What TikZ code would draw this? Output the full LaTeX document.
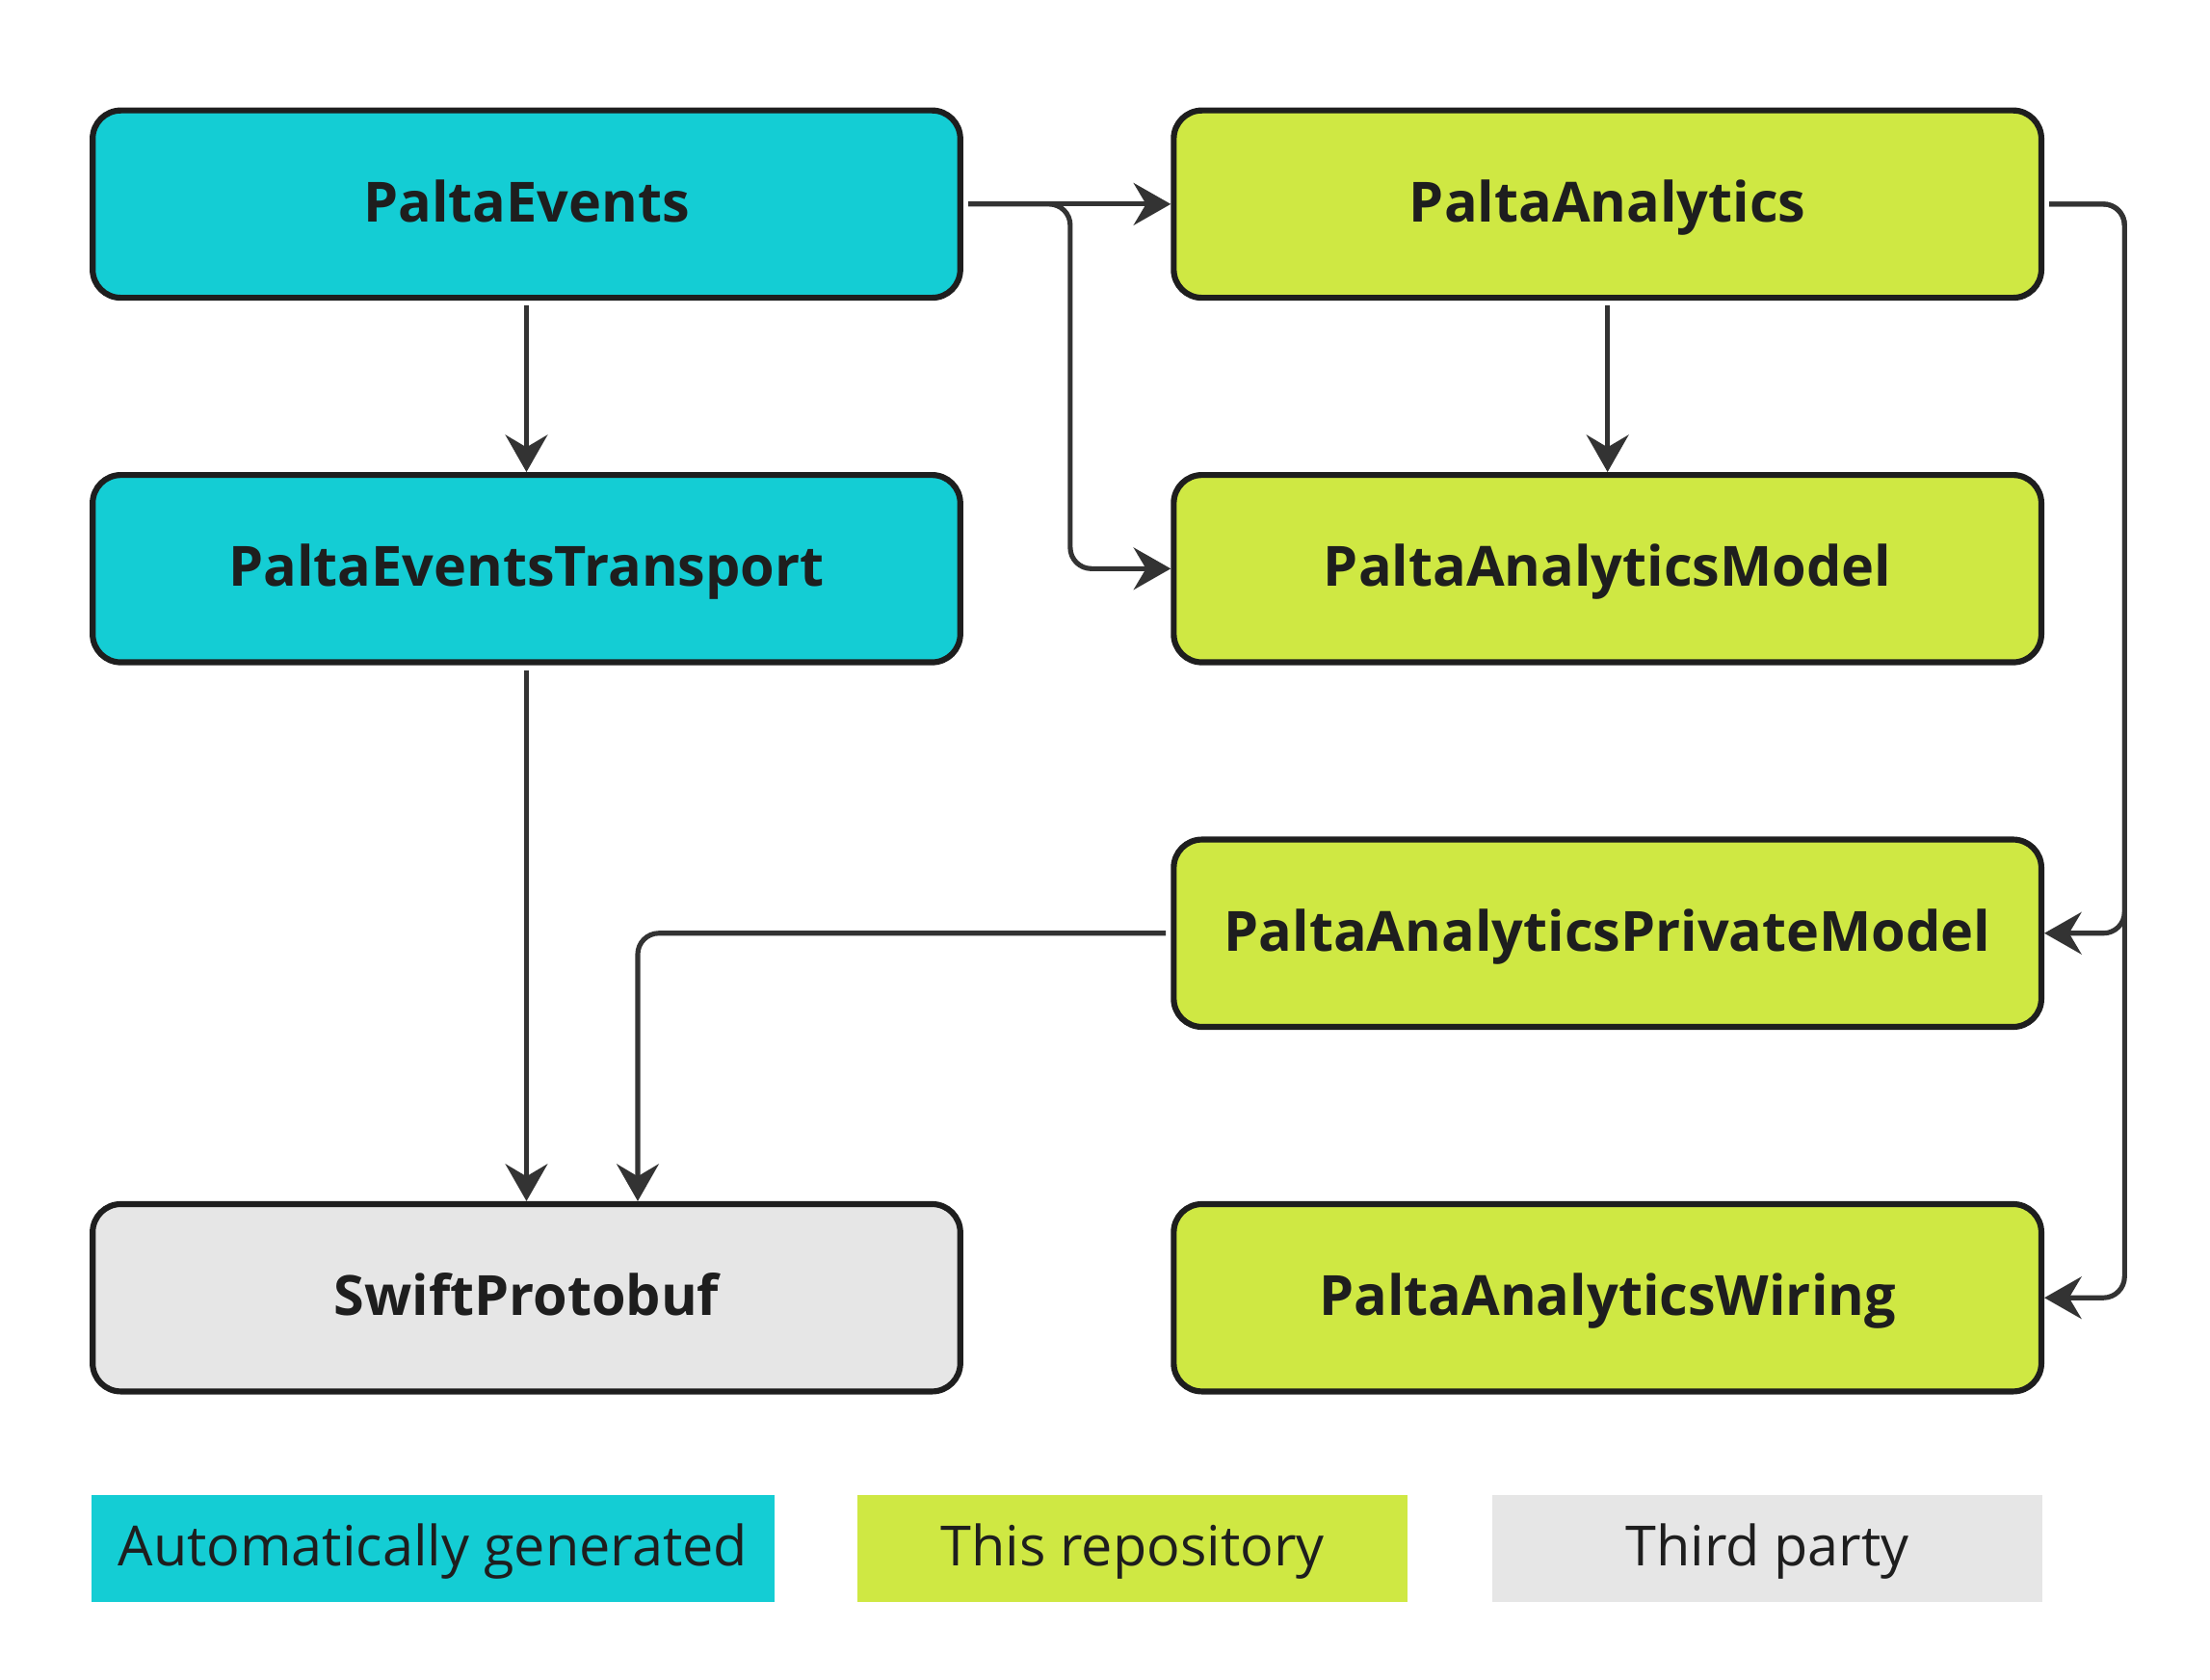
\documentclass[tikz,border=0pt]{standalone}
\usepackage{fontspec}
\setmainfont{Open Sans}
\usetikzlibrary{arrows.meta,positioning,calc}
\definecolor{gencyan}{HTML}{14CDD4}
\definecolor{repolime}{HTML}{CFE843}
\definecolor{thirdgray}{HTML}{E6E6E6}
\definecolor{wire}{HTML}{333333}
\definecolor{ink}{HTML}{1E1E1E}
\tikzset{
	module/.style={draw=ink, line width=1.2pt, rounded corners=2mm, minimum width=6.16cm, minimum height=1.33cm, text=ink, text height=0.71em, text depth=0em, font=\fontsize{11.2}{14}\selectfont\bfseries},
	gen/.style={module, fill=gencyan},
	repo/.style={module, fill=repolime},
	third/.style={module, fill=thirdgray},
	keybox/.style={minimum height=0.76cm, text=ink, text height=0.71em, text depth=0em, font=\fontsize{11.2}{14}\selectfont},
	dep/.style={draw=wire, line width=1pt, rounded corners=1.5mm, shorten <=1pt, -{Stealth[length=7.5pt,width=8.5pt,inset=2.5pt]}},
}
\begin{document}
\begin{tikzpicture}[x=0.01cm,y=-0.01cm]
	\useasboundingbox (0,0) rectangle (1570,1193);
	\node[gen] (PE) at (374,145){PaltaEvents};
	\node[gen] (PET) at (374,404){PaltaEventsTransport};
	\node[third] (SP) at (374,922){SwiftProtobuf};
	\node[repo] (PA) at (1142,145){PaltaAnalytics};
	\node[repo] (PAM) at (1142,404){PaltaAnalyticsModel};
	\node[repo] (PAPM) at (1142,663){PaltaAnalyticsPrivateModel};
	\node[repo] (PAW) at (1142,922){PaltaAnalyticsWiring};
	\node[keybox, fill=gencyan, minimum width=4.85cm] (K1) at (307.5,1100){Automatically generated};
	\node[keybox, fill=repolime, minimum width=3.91cm] (K2) at (804.5,1100){This repository};
	\node[keybox, fill=thirdgray, minimum width=3.91cm] (K3) at (1255.5,1100){Third party};
	\draw[dep] (PE) -- (PA);
	\draw[dep] (PE.east) -- ++(76,0)coordinate (b1) |- (PAM.west);
	\draw[dep] (PE) -- (PET);
	\draw[dep] (PA) -- (PAM);
	\draw[dep] (PA.east) -- ++(57,0)coordinate (b2) |- (PAPM.east);
	\draw[dep] (PA.east) -- (b2) |- (PAW.east);
	\draw[dep] (PET) -- (SP);
	\draw[dep] (PAPM.west) -| ([xshift=0.79cm]SP.north);
\end{tikzpicture}
\end{document}
